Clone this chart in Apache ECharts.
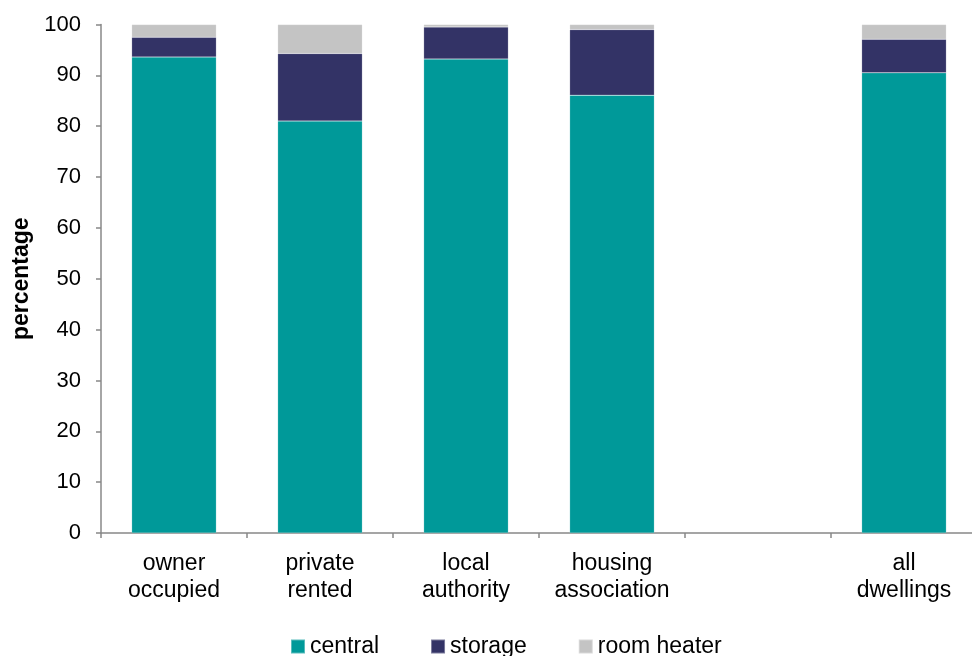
<!DOCTYPE html>
<html>
<head>
<meta charset="utf-8">
<script src="https://cdn.jsdelivr.net/npm/echarts@6/dist/echarts.min.js"></script>
<style>
  html, body { margin: 0; padding: 0; background: #ffffff; }
  #chart { width: 972px; height: 656px; }
</style>
</head>
<body>
<div id="chart"></div>
<script>
// Heating system type by tenure (percentage of dwellings)
const categories = ['owner\noccupied', 'private\nrented', 'local\nauthority', 'housing\nassociation', '', 'all\ndwellings'];
const central    = [93.6, 81.0, 93.2, 86.1, null, 90.5];
const storage    = [3.9, 13.3, 6.3, 12.9, null, 6.6];
const roomHeater = [2.5, 5.7, 0.5, 1.0, null, 2.9];
const yTicks = { min: 0, max: 100, interval: 10 };

const FONT = '"Liberation Sans", Arial, sans-serif';
const colors = { central: '#009999', storage: '#333366', room: '#C4C4C4' };

function barSeries(name, data, color) {
  return {
    name: name,
    type: 'bar',
    stack: 'heating',
    data: data,
    barWidth: '58%',
    itemStyle: { color: color, borderColor: 'rgba(255,255,255,0.35)', borderWidth: 0.5 },
    emphasis: { disabled: true }
  };
}

const chart = echarts.init(document.getElementById('chart'), null, { renderer: 'canvas' });
chart.setOption({
  animation: false,
  backgroundColor: '#ffffff',
  textStyle: { fontFamily: FONT },
  // plot area runs slightly past the right edge of the canvas
  grid: { left: 101, top: 24.5, width: 876, height: 508.5, containLabel: false, outerBoundsMode: 'none' },
  legend: {
    bottom: -7,
    left: 285,
    itemWidth: 14,
    itemHeight: 14,
    itemGap: 51,
    icon: 'rect',
    textStyle: { fontSize: 23, color: '#000', fontFamily: FONT },
    data: ['central', 'storage', 'room heater']
  },
  xAxis: {
    type: 'category',
    data: categories,
    axisLine: { lineStyle: { color: '#888888', width: 1.5 } },
    axisTick: { show: true, length: 5, lineStyle: { color: '#888888', width: 1.5 } },
    axisLabel: { color: '#000', fontSize: 23, lineHeight: 27, margin: 17, interval: 0, fontFamily: FONT },
    splitLine: { show: false }
  },
  yAxis: {
    type: 'value',
    min: yTicks.min,
    max: yTicks.max,
    interval: yTicks.interval,
    name: 'percentage',
    nameLocation: 'middle',
    nameGap: 68,
    nameRotate: 90,
    nameTextStyle: { fontSize: 23, fontWeight: 'bold', color: '#000', fontFamily: FONT },
    axisLine: { show: true, lineStyle: { color: '#888888', width: 1.5 } },
    axisTick: { show: true, length: 5, lineStyle: { color: '#888888', width: 1.5 } },
    axisLabel: { color: '#000', fontSize: 22, margin: 20, fontFamily: FONT },
    splitLine: { show: false }
  },
  series: [
    barSeries('central', central, colors.central),
    barSeries('storage', storage, colors.storage),
    barSeries('room heater', roomHeater, colors.room)
  ]
});
</script>
</body>
</html>
